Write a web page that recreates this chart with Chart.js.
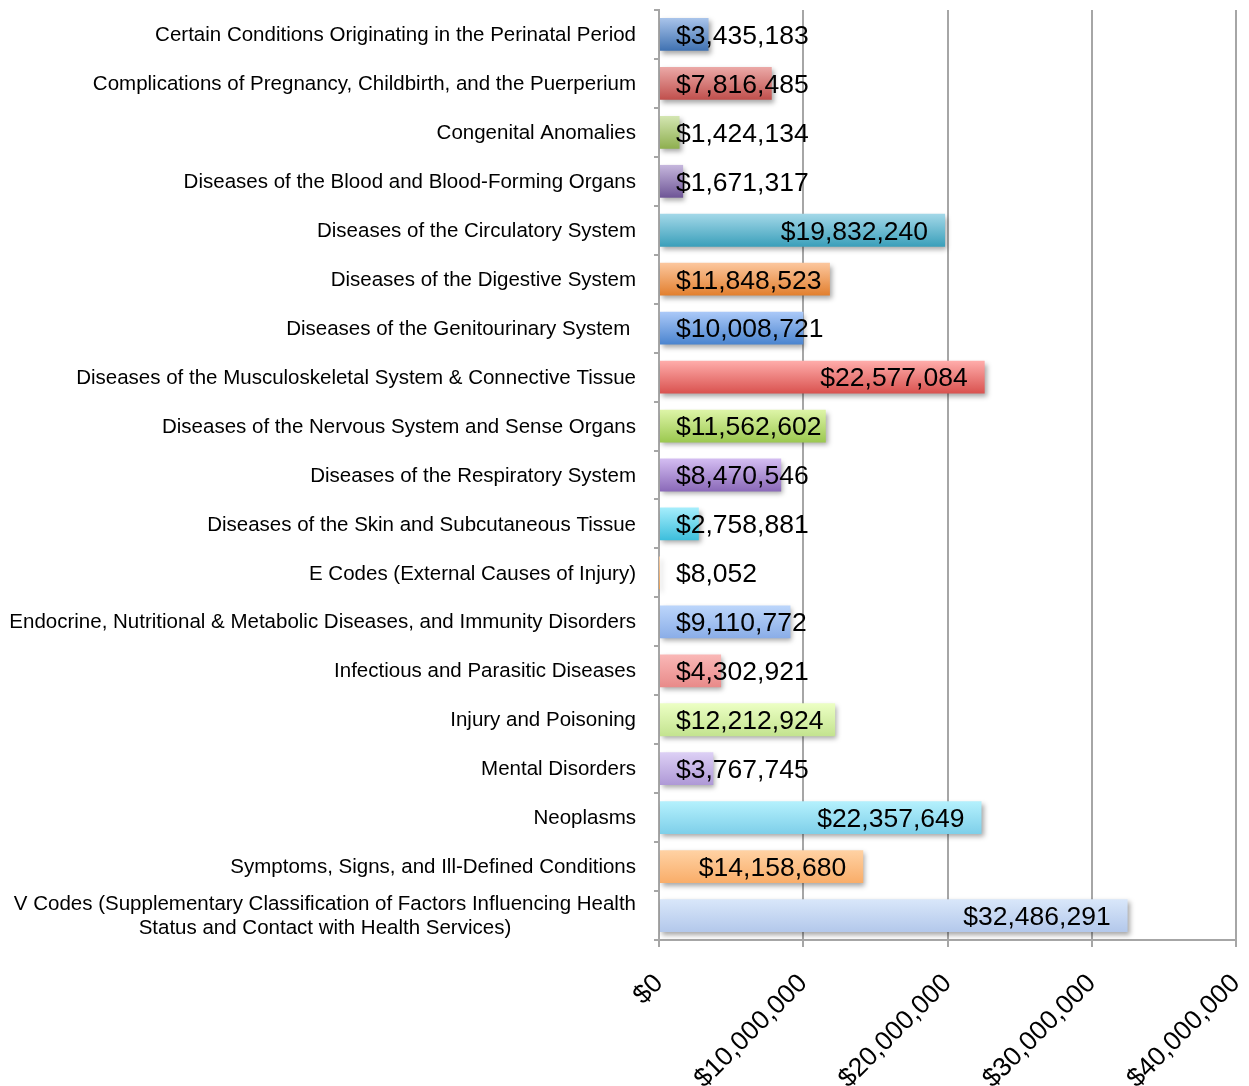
<!DOCTYPE html>
<html>
<head>
<meta charset="utf-8">
<script src="https://cdn.jsdelivr.net/npm/chart.js@4/dist/chart.umd.min.js"></script>
<style>
  html, body { margin: 0; padding: 0; background: #ffffff; }
  #wrap { width: 1249px; height: 1086px; }
</style>
</head>
<body>
<div id="wrap"><canvas id="c" width="1249" height="1086"></canvas></div>
<script>
const categories = [
  "Certain Conditions Originating in the Perinatal Period",
  "Complications of Pregnancy, Childbirth, and the Puerperium",
  "Congenital Anomalies",
  "Diseases of the Blood and Blood-Forming Organs",
  "Diseases of the Circulatory System",
  "Diseases of the Digestive System",
  "Diseases of the Genitourinary System ",
  "Diseases of the Musculoskeletal System & Connective Tissue",
  "Diseases of the Nervous System and Sense Organs",
  "Diseases of the Respiratory System",
  "Diseases of the Skin and Subcutaneous Tissue",
  "E Codes (External Causes of Injury)",
  "Endocrine, Nutritional & Metabolic Diseases, and Immunity Disorders",
  "Infectious and Parasitic Diseases",
  "Injury and Poisoning",
  "Mental Disorders",
  "Neoplasms",
  "Symptoms, Signs, and Ill-Defined Conditions",
  ["V Codes (Supplementary Classification of Factors Influencing Health", "Status and Contact with Health Services)"]
];
const costs = [
  3435183, 7816485, 1424134, 1671317, 19832240, 11848523, 10008721, 22577084,
  11562602, 8470546, 2758881, 8052, 9110772, 4302921, 12212924, 3767745,
  22357649, 14158680, 32486291
];
const xTicks = [0, 10000000, 20000000, 30000000, 40000000];
const barTopColors = [
  "#a9c4ea", "#eba9a7", "#d4e6b2", "#c6b7dd", "#a3d8e8", "#fcc79e",
  "#abc9f8", "#ffadab", "#def5a8", "#d4bdf2", "#a6eefc", "#fdd0a6",
  "#bcd6fb", "#fab8b7", "#ecffc4", "#ddd0f5", "#b5f1fd", "#ffd2a4", "#d9e7fa"
];
const barBottomColors = [
  "#3f71b1", "#c04f4c", "#8eaf4f", "#6e5596", "#3a9fba", "#e27f2e",
  "#4a84cf", "#d9524f", "#9bc84f", "#8a69b8", "#3cbedc", "#f0a050",
  "#8aade7", "#e88a89", "#c3e38f", "#ae98d6", "#7ecfe9", "#f9ad69", "#b3c8eb"
];

const fmt = v => "$" + Math.round(v).toLocaleString("en-US");
const FONT = "'Liberation Sans', Arial, Helvetica, sans-serif";
const BAR_PCT = 0.67;

function barGradient(ctx) {
  const chart = ctx.chart;
  const i = ctx.dataIndex;
  const ys = chart.scales && chart.scales.y;
  if (!chart.chartArea || !ys || i === undefined) return barBottomColors[i || 0];
  const yc = ys.getPixelForValue(i);
  const band = (ys.bottom - ys.top) / categories.length;
  const half = band * BAR_PCT / 2;
  const g = chart.ctx.createLinearGradient(0, yc - half, 0, yc + half);
  g.addColorStop(0, barTopColors[i]);
  g.addColorStop(1, barBottomColors[i]);
  return g;
}

const decor = {
  id: "decor",
  beforeDatasetsDraw(chart) {
    const c = chart.ctx;
    c.save();
    c.shadowColor = "rgba(0,0,0,0.35)";
    c.shadowBlur = 5;
    c.shadowOffsetX = 2;
    c.shadowOffsetY = 3;
  },
  afterDatasetsDraw(chart) {
    const c = chart.ctx;
    c.restore();
    const xs = chart.scales.x, ys = chart.scales.y;
    const meta = chart.getDatasetMeta(0);
    // value labels
    c.save();
    c.font = "26.5px " + FONT;
    c.fillStyle = "#000000";
    c.textBaseline = "middle";
    c.textAlign = "left";
    const base = xs.getPixelForValue(0);
    meta.data.forEach((bar, i) => {
      const txt = fmt(costs[i]);
      const w = c.measureText(txt).width;
      const end = xs.getPixelForValue(costs[i]);
      const x = Math.max(base + 17, end - 17 - w);
      c.fillText(txt, x, ys.getPixelForValue(i) + 2);
    });
    c.restore();
    // category labels
    c.save();
    c.font = "20.5px " + FONT;
    c.fillStyle = "#000000";
    c.textBaseline = "middle";
    c.textAlign = "center";
    const right = ys.right - 23;
    categories.forEach((lab, i) => {
      const lines = Array.isArray(lab) ? lab : [lab];
      const maxW = Math.max(...lines.map(l => c.measureText(l).width));
      const cx = right - maxW / 2;
      const yc = ys.getPixelForValue(i) + 1;
      lines.forEach((l, j) => {
        c.fillText(l, cx, yc + (j - (lines.length - 1) / 2) * 24);
      });
    });
    c.restore();
  }
};

new Chart(document.getElementById("c"), {
  type: "bar",
  data: {
    labels: categories,
    datasets: [{
      data: costs,
      backgroundColor: barGradient,
      borderWidth: 0,
      barPercentage: BAR_PCT,
      categoryPercentage: 1.0
    }]
  },
  options: {
    indexAxis: "y",
    responsive: false,
    animation: false,
    devicePixelRatio: 1,
    layout: { padding: { top: 10, right: 13, left: 0, bottom: 0 } },
    plugins: { legend: { display: false }, tooltip: { enabled: false } },
    scales: {
      x: {
        min: 0, max: 40000000,
        afterBuildTicks: s => { s.ticks = xTicks.map(v => ({ value: v })); },
        afterFit: s => { s.height = 146; s.paddingRight = 0; s.paddingLeft = 0; },
        grid: { color: "#a6a6a6", lineWidth: 2, tickLength: 7, drawTicks: true },
        border: { color: "#a6a6a6", width: 2 },
        ticks: {
          minRotation: 45, maxRotation: 45,
          padding: 21,
          color: "#000000",
          font: { family: FONT, size: 26.5 },
          callback: v => fmt(v)
        }
      },
      y: {
        afterFit: s => { s.width = 659; },
        grid: { display: true, drawOnChartArea: false, drawTicks: true, tickLength: 5, color: "#a6a6a6", lineWidth: 2, offset: true },
        border: { color: "#a6a6a6", width: 2 },
        ticks: { display: false }
      }
    }
  },
  plugins: [decor]
});
</script>
</body>
</html>
